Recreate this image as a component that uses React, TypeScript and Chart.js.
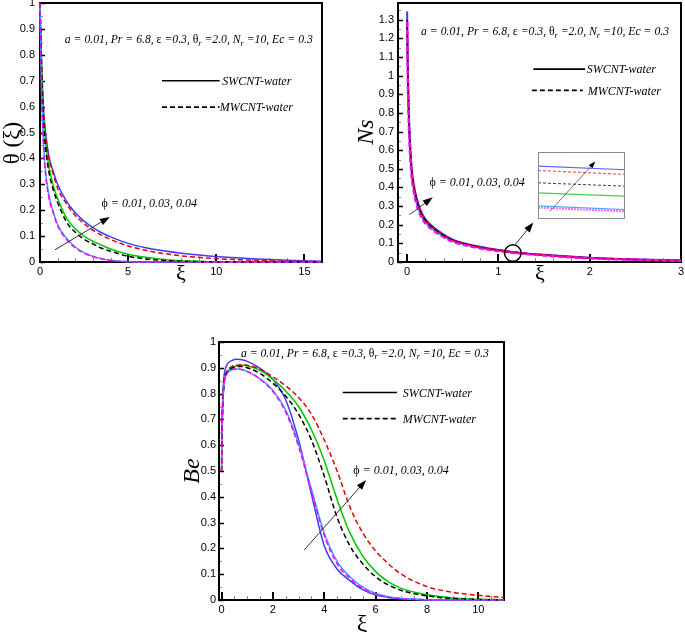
import React, { useEffect, useRef } from "react";
import { Chart, registerables } from "chart.js";
Chart.register(...registerables);

// ---------- colours ----------
const BLUE = "rgb(60,60,255)";
const LIGHTBLUE = "rgb(70,150,255)";
const MAGENTA = "rgb(255,0,255)";
const GREEN = "rgb(0,200,0)";
const BLACK = "rgb(0,0,0)";
const RED = "rgb(225,0,0)";

// ---------- theta(xi) ----------
const thetaXi = [0, 0.05, 0.1, 0.2, 0.3, 0.5, 0.75, 1, 1.5, 2, 2.5, 3, 3.5, 4, 5, 6, 7, 8, 9, 10, 12, 14, 16];
const thetaBlue = [1, 0.86, 0.75, 0.59, 0.51, 0.41, 0.35, 0.3, 0.235, 0.19, 0.158, 0.133, 0.113, 0.097, 0.072, 0.055, 0.043, 0.034, 0.027, 0.021, 0.013, 0.007, 0.003];
const thetaRed = [1, 0.86, 0.74, 0.58, 0.5, 0.4, 0.34, 0.285, 0.225, 0.18, 0.148, 0.123, 0.103, 0.087, 0.062, 0.045, 0.033, 0.024, 0.018, 0.013, 0.007, 0.003, 0.001];
const thetaGreen = [1, 0.85, 0.73, 0.56, 0.47, 0.37, 0.295, 0.245, 0.17, 0.128, 0.1, 0.08, 0.065, 0.05, 0.03, 0.018, 0.01, 0.005, 0.003, 0.001, 0, 0, 0];
const thetaBlack = [1, 0.84, 0.71, 0.54, 0.45, 0.35, 0.28, 0.23, 0.155, 0.115, 0.088, 0.07, 0.053, 0.042, 0.022, 0.012, 0.006, 0.003, 0.001, 0.0005, 0, 0, 0];
const thetaLightBlue = [1, 0.8, 0.63, 0.46, 0.36, 0.26, 0.195, 0.145, 0.092, 0.058, 0.036, 0.022, 0.013, 0.007, 0.002, 0, 0, 0, 0, 0, 0, 0, 0];
const thetaMagenta = [1, 0.79, 0.62, 0.45, 0.35, 0.25, 0.19, 0.14, 0.088, 0.055, 0.034, 0.02, 0.012, 0.006, 0.001, 0, 0, 0, 0, 0, 0, 0, 0];
const thetaXTicks = [0, 5, 10, 15];
const thetaYTicks = [0, 0.1, 0.2, 0.3, 0.4, 0.5, 0.6, 0.7, 0.8, 0.9, 1];

// ---------- Ns ----------
const nsXi = [0, 0.005, 0.01, 0.02, 0.03, 0.05, 0.075, 0.1, 0.15, 0.2, 0.3, 0.4, 0.5, 0.75, 1, 1.25, 1.5, 2, 2.5, 3];
const nsBlue = [1.345, 1.13, 0.98, 0.78, 0.66, 0.5, 0.41, 0.35, 0.275, 0.23, 0.182, 0.147, 0.12, 0.086, 0.065, 0.049, 0.039, 0.023, 0.014, 0.009];
const nsRed = [1.28, 1.12, 0.97, 0.77, 0.65, 0.495, 0.405, 0.345, 0.27, 0.226, 0.179, 0.145, 0.118, 0.085, 0.064, 0.048, 0.038, 0.022, 0.013, 0.008];
const nsBlack = [1.3, 1.11, 0.96, 0.76, 0.64, 0.49, 0.4, 0.34, 0.266, 0.223, 0.177, 0.143, 0.117, 0.084, 0.063, 0.048, 0.038, 0.022, 0.013, 0.008];
const nsGreen = [1.3, 1.1, 0.95, 0.75, 0.63, 0.48, 0.39, 0.333, 0.26, 0.218, 0.174, 0.14, 0.115, 0.082, 0.062, 0.047, 0.037, 0.021, 0.013, 0.008];
const nsLightBlue = [1.3, 1.08, 0.93, 0.73, 0.61, 0.465, 0.378, 0.32, 0.25, 0.21, 0.167, 0.135, 0.111, 0.079, 0.06, 0.045, 0.036, 0.02, 0.012, 0.007];
const nsMagenta = [1.29, 1.07, 0.92, 0.72, 0.6, 0.46, 0.373, 0.316, 0.247, 0.207, 0.165, 0.133, 0.109, 0.078, 0.059, 0.045, 0.035, 0.02, 0.012, 0.007];
const nsXTicks = [0, 1, 2, 3];
const nsYTicks = [0, 0.1, 0.2, 0.3, 0.4, 0.5, 0.6, 0.7, 0.8, 0.9, 1, 1.1, 1.2, 1.3];

// ---------- Ns inset (zoom near xi = 1.15) ----------
const insetXi = [1.1, 1.2];
const insetBlue = [0.05474, 0.05441];
const insetRed = [0.05435, 0.05399];
const insetBlack = [0.05324, 0.05294];
const insetGreen = [0.05234, 0.05204];
const insetLightBlue = [0.05117, 0.05084];
const insetMagenta = [0.05102, 0.05068];

// ---------- Be ----------
const beXi = [0, 0.02, 0.05, 0.1, 0.2, 0.4, 0.6, 0.8, 1, 1.5, 2, 2.5, 3, 3.5, 4, 4.5, 5, 5.5, 6, 6.5, 7, 8, 9, 10, 11];
const beBlue = [0.55, 0.7, 0.8, 0.87, 0.91, 0.928, 0.933, 0.931, 0.925, 0.898, 0.855, 0.775, 0.62, 0.41, 0.21, 0.12, 0.075, 0.04, 0.019, 0.01, 0.005, 0.001, 0, 0, 0];
const beLightBlue = [0.5, 0.65, 0.76, 0.84, 0.875, 0.892, 0.895, 0.892, 0.885, 0.857, 0.812, 0.735, 0.605, 0.43, 0.26, 0.15, 0.09, 0.05, 0.026, 0.013, 0.006, 0.001, 0, 0, 0];
const beMagenta = [0.5, 0.65, 0.76, 0.84, 0.876, 0.893, 0.896, 0.893, 0.886, 0.856, 0.808, 0.728, 0.595, 0.42, 0.25, 0.14, 0.083, 0.045, 0.022, 0.011, 0.005, 0.001, 0, 0, 0];
const beGreen = [0.5, 0.65, 0.76, 0.84, 0.88, 0.9, 0.908, 0.91, 0.908, 0.89, 0.855, 0.81, 0.75, 0.66, 0.54, 0.39, 0.26, 0.17, 0.11, 0.07, 0.045, 0.02, 0.008, 0.003, 0.001];
const beBlack = [0.5, 0.66, 0.77, 0.845, 0.88, 0.898, 0.905, 0.905, 0.9, 0.878, 0.84, 0.79, 0.72, 0.62, 0.48, 0.32, 0.21, 0.14, 0.09, 0.058, 0.037, 0.016, 0.006, 0.002, 0];
const beRed = [0.5, 0.66, 0.77, 0.85, 0.885, 0.905, 0.91, 0.912, 0.91, 0.895, 0.865, 0.83, 0.785, 0.72, 0.62, 0.5, 0.36, 0.26, 0.19, 0.14, 0.1, 0.052, 0.03, 0.018, 0.01];
const beXTicks = [0, 2, 4, 6, 8, 10];
const beYTicks = [0, 0.1, 0.2, 0.3, 0.4, 0.5, 0.6, 0.7, 0.8, 0.9, 1];

// ---------- texts ----------
type Seg = { t: string; it?: boolean; sub?: boolean };
const PARAM_SEGS: Seg[] = [
  { t: "a = 0.01, Pr = 6.8, ", it: true },
  { t: "ε" },
  { t: " =0.3, ", it: true },
  { t: "θ" },
  { t: "r", it: true, sub: true },
  { t: " =2.0, N", it: true },
  { t: "r", it: true, sub: true },
  { t: " =10, Ec = 0.3", it: true },
];
const PHI_SEGS: Seg[] = [{ t: "ϕ" }, { t: " = 0.01, 0.03, 0.04", it: true }];
const SW_LABEL = "SWCNT-water";
const MW_LABEL = "MWCNT-water";

// ---------- helpers ----------
type Series = { label: string; y: number[]; color: string; dashed: boolean; width?: number; dash?: number[] };

function makeDatasets(x: number[], series: Series[]) {
  return series.map((s) => ({
    label: s.label,
    data: x.map((xi, i) => ({ x: xi, y: s.y[i] })),
    borderColor: s.color,
    backgroundColor: s.color,
    borderWidth: s.width ?? 1.5,
    borderDash: s.dashed ? s.dash ?? [5, 3] : [],
    pointRadius: 0,
    fill: false,
    clip: { left: 2, top: 1, right: 0, bottom: 1 },
    cubicInterpolationMode: "monotone" as const,
  }));
}

function drawSegs(ctx: CanvasRenderingContext2D, segs: Seg[], x: number, y: number, size: number) {
  let cx = x;
  ctx.save();
  ctx.fillStyle = "#000";
  ctx.textAlign = "left";
  ctx.textBaseline = "middle";
  for (const s of segs) {
    const fs = s.sub ? size * 0.7 : size;
    ctx.font = `${s.it ? "italic " : ""}${fs}px "Liberation Serif"`;
    ctx.fillText(s.t, cx, s.sub ? y + size * 0.3 : y);
    cx += ctx.measureText(s.t).width;
  }
  ctx.restore();
}

function arrow(ctx: CanvasRenderingContext2D, x1: number, y1: number, x2: number, y2: number, head = 10, hw = 3.5, lineColor = "#333", lw = 1) {
  ctx.save();
  const ang = Math.atan2(y2 - y1, x2 - x1);
  ctx.strokeStyle = lineColor;
  ctx.lineWidth = lw;
  ctx.beginPath();
  ctx.moveTo(x1, y1);
  ctx.lineTo(x2 - Math.cos(ang) * head * 0.8, y2 - Math.sin(ang) * head * 0.8);
  ctx.stroke();
  ctx.fillStyle = "#000";
  ctx.beginPath();
  ctx.moveTo(x2, y2);
  ctx.lineTo(x2 - Math.cos(ang) * head - Math.sin(ang) * hw, y2 - Math.sin(ang) * head + Math.cos(ang) * hw);
  ctx.lineTo(x2 - Math.cos(ang) * head + Math.sin(ang) * hw, y2 - Math.sin(ang) * head - Math.cos(ang) * hw);
  ctx.closePath();
  ctx.fill();
  ctx.restore();
}

function legendRow(ctx: CanvasRenderingContext2D, x1: number, x2: number, y: number, dashed: boolean, text: string, tx: number) {
  ctx.save();
  ctx.strokeStyle = "#000";
  ctx.lineWidth = 1.6;
  ctx.setLineDash(dashed ? [5, 3] : []);
  ctx.beginPath();
  ctx.moveTo(x1, y);
  ctx.lineTo(x2, y);
  ctx.stroke();
  ctx.setLineDash([]);
  ctx.fillStyle = "#000";
  ctx.font = 'italic 12px "Liberation Serif"';
  ctx.textBaseline = "middle";
  ctx.textAlign = "left";
  ctx.fillText(text, tx, y + 1);
  ctx.restore();
}

function drawFrame(chart: any, xMajor: number[], xMinorStep: number, yMajor: number[], yMinorStep: number) {
  const { ctx, chartArea: a, scales } = chart;
  const x = scales.x, y = scales.y;
  ctx.save();
  ctx.strokeStyle = "#8a8a8a";
  ctx.lineWidth = 1;
  for (let i = Math.ceil(x.min / xMinorStep); i * xMinorStep <= x.max + 1e-9; i++) {
    const px = Math.round(x.getPixelForValue(i * xMinorStep)) + 0.5;
    ctx.beginPath();
    ctx.moveTo(px, a.bottom);
    ctx.lineTo(px, a.bottom - 4);
    ctx.stroke();
  }
  for (let i = Math.ceil(y.min / yMinorStep); i * yMinorStep <= y.max + 1e-9; i++) {
    const py = Math.round(y.getPixelForValue(i * yMinorStep)) + 0.5;
    ctx.beginPath();
    ctx.moveTo(a.left, py);
    ctx.lineTo(a.left + 3, py);
    ctx.stroke();
  }
  ctx.strokeStyle = "#000";
  ctx.lineWidth = 2;
  for (const v of xMajor) {
    const px = Math.round(x.getPixelForValue(v));
    ctx.beginPath();
    ctx.moveTo(px, a.bottom);
    ctx.lineTo(px, a.bottom - 8);
    ctx.stroke();
  }
  ctx.lineWidth = 1.5;
  for (const v of yMajor) {
    const py = Math.round(y.getPixelForValue(v)) + 0.5;
    ctx.beginPath();
    ctx.moveTo(a.left, py);
    ctx.lineTo(a.left + 5, py);
    ctx.stroke();
  }
  ctx.lineWidth = 2;
  ctx.strokeRect(a.left, a.top, a.right - a.left, a.bottom - a.top);
  ctx.restore();
}

function drawTitles(ctx: CanvasRenderingContext2D, yText: string, yItalic: boolean, yx: number, yy: number, ySize: number, xx: number, xy: number, xSize: number) {
  ctx.save();
  ctx.fillStyle = "#000";
  ctx.textAlign = "center";
  ctx.textBaseline = "middle";
  ctx.translate(yx, yy);
  ctx.rotate(-Math.PI / 2);
  ctx.font = `${yItalic ? "italic " : ""}${ySize}px "Liberation Serif"`;
  ctx.fillText(yText, 0, 0);
  ctx.restore();
  ctx.save();
  ctx.fillStyle = "#000";
  ctx.textAlign = "center";
  ctx.textBaseline = "middle";
  ctx.font = `${xSize}px "Liberation Serif"`;
  ctx.fillText("ξ", xx, xy);
  ctx.restore();
}

type AxisOpts = {
  xMin: number; xMax: number; yMin: number; yMax: number;
  xTicks: number[]; yTicks: number[];
  yWidth: number; xHeight: number;
  pad: { left: number; top: number; right: number; bottom: number };
  yTickPad: number; xTickPad: number;
  xMinor: number; yMinor: number;
};

function baseConfig(datasets: any[], o: AxisOpts, overlay: (chart: any) => void): any {
  const tickFont = { family: '"Liberation Sans"', size: 11 };
  return {
    type: "line",
    data: { datasets },
    options: {
      animation: false,
      responsive: false,
      maintainAspectRatio: false,
      devicePixelRatio: 1,
      layout: { padding: o.pad },
      plugins: { legend: { display: false }, tooltip: { enabled: false }, title: { display: false } },
      scales: {
        x: {
          type: "linear",
          position: "bottom",
          min: o.xMin,
          max: o.xMax,
          grid: { display: false, drawTicks: false },
          border: { display: false },
          afterBuildTicks: (ax: any) => { ax.ticks = o.xTicks.map((v) => ({ value: v })); },
          afterFit: (ax: any) => { ax.height = o.xHeight; ax.paddingLeft = 0; ax.paddingRight = 0; },
          ticks: { font: tickFont, color: "#000", padding: o.xTickPad, maxRotation: 0, autoSkip: false, callback: (v: any) => String(v) },
        },
        y: {
          type: "linear",
          position: "left",
          min: o.yMin,
          max: o.yMax,
          grid: { display: false, drawTicks: false },
          border: { display: false },
          afterBuildTicks: (ax: any) => { ax.ticks = o.yTicks.map((v) => ({ value: v })); },
          afterFit: (ax: any) => { ax.width = o.yWidth; ax.paddingTop = 0; ax.paddingBottom = 0; },
          ticks: { font: tickFont, color: "#000", padding: o.yTickPad, autoSkip: false, callback: (v: any) => String(v) },
        },
      },
    },
    plugins: [{
      id: "overlay",
      beforeDatasetsDraw: (chart: any) => drawFrame(chart, o.xTicks, o.xMinor, o.yTicks, o.yMinor),
      afterDatasetsDraw: (chart: any) => overlay(chart),
    }],
  };
}

// ---------- chart builders ----------
function makeTheta() {
  const ds = makeDatasets(thetaXi, [
    { label: "MWCNT ϕ=0.01", y: thetaMagenta, color: MAGENTA, dashed: true },
    { label: "MWCNT ϕ=0.03", y: thetaBlack, color: BLACK, dashed: true },
    { label: "MWCNT ϕ=0.04", y: thetaRed, color: RED, dashed: true },
    { label: "SWCNT ϕ=0.01", y: thetaLightBlue, color: LIGHTBLUE, dashed: false },
    { label: "SWCNT ϕ=0.03", y: thetaGreen, color: GREEN, dashed: false },
    { label: "SWCNT ϕ=0.04", y: thetaBlue, color: BLUE, dashed: false },
  ]);
  return baseConfig(ds, {
    xMin: 0, xMax: 16, yMin: 0, yMax: 1, xTicks: thetaXTicks, yTicks: thetaYTicks,
    yWidth: 40, xHeight: 23, pad: { left: 0, top: 3, right: 8, bottom: 0 }, yTickPad: 5, xTickPad: 3,
    xMinor: 1, yMinor: 0.05,
  }, (chart) => {
    const { ctx, scales: { x, y } } = chart;
    const X = (v: number) => x.getPixelForValue(v), Y = (v: number) => y.getPixelForValue(v);
    drawSegs(ctx, PARAM_SEGS, X(1.41), Y(0.856), 11.7);
    legendRow(ctx, X(6.92), X(10.19), Y(0.7), false, SW_LABEL, X(10.34));
    legendRow(ctx, X(6.92), X(10.19), Y(0.598), true, MW_LABEL, X(10.2));
    arrow(ctx, X(0.85), Y(0.047), X(3.96), Y(0.174));
    drawSegs(ctx, PHI_SEGS, X(3.49), Y(0.225), 12);
    drawTitles(ctx, "θ (ξ)", false, 13, 143, 23, 181, 274, 22);
  });
}

function makeNs() {
  const ds = makeDatasets(nsXi, [
    { label: "MWCNT ϕ=0.01", y: nsMagenta, color: MAGENTA, dashed: true, width: 2.5 },
    { label: "MWCNT ϕ=0.03", y: nsBlack, color: BLACK, dashed: true },
    { label: "MWCNT ϕ=0.04", y: nsRed, color: RED, dashed: true, width: 2 },
    { label: "SWCNT ϕ=0.01", y: nsLightBlue, color: LIGHTBLUE, dashed: false },
    { label: "SWCNT ϕ=0.03", y: nsGreen, color: GREEN, dashed: false },
    { label: "SWCNT ϕ=0.04", y: nsBlue, color: BLUE, dashed: false, width: 2 },
  ]);
  return baseConfig(ds, {
    xMin: -0.1, xMax: 3, yMin: 0, yMax: 1.39, xTicks: nsXTicks, yTicks: nsYTicks,
    yWidth: 53, xHeight: 23, pad: { left: 0, top: 3, right: 4, bottom: 0 }, yTickPad: 4, xTickPad: 3,
    xMinor: 0.2, yMinor: 0.05,
  }, (chart) => {
    const { ctx, scales: { x, y } } = chart;
    const X = (v: number) => x.getPixelForValue(v), Y = (v: number) => y.getPixelForValue(v);
    drawSegs(ctx, PARAM_SEGS, X(0.153), Y(1.234), 11.7);
    legendRow(ctx, X(1.383), X(1.95), Y(1.035), false, SW_LABEL, X(1.968));
    legendRow(ctx, X(1.366), X(1.924), Y(0.921), true, MW_LABEL, X(1.979));
    arrow(ctx, X(0.025), Y(0.254), X(0.281), Y(0.347));
    drawSegs(ctx, PHI_SEGS, X(0.244), Y(0.427), 12);
    ctx.save();
    ctx.strokeStyle = "#000";
    ctx.lineWidth = 1.5;
    ctx.beginPath();
    ctx.arc(X(1.158), Y(0.048), 8.3, 0, Math.PI * 2);
    ctx.stroke();
    ctx.restore();
    arrow(ctx, X(1.183), Y(0.093), X(1.383), Y(0.212), 10, 3.5);
    drawTitles(ctx, "Ns", true, 22, 132, 24, 195, 274, 22);
  });
}

function makeInset() {
  const ds = makeDatasets(insetXi, [
    { label: "MWCNT ϕ=0.01", y: insetMagenta, color: "rgba(255,80,255,0.85)", dashed: true, width: 2, dash: [2, 1] },
    { label: "MWCNT ϕ=0.03", y: insetBlack, color: "rgba(40,40,40,0.9)", dashed: true, width: 1, dash: [3, 2] },
    { label: "MWCNT ϕ=0.04", y: insetRed, color: "rgba(230,60,60,0.85)", dashed: true, width: 1.2, dash: [3, 2] },
    { label: "SWCNT ϕ=0.01", y: insetLightBlue, color: "rgba(80,150,255,0.9)", dashed: false, width: 1.2 },
    { label: "SWCNT ϕ=0.03", y: insetGreen, color: "rgba(40,210,40,0.9)", dashed: false, width: 1.2 },
    { label: "SWCNT ϕ=0.04", y: insetBlue, color: "rgba(80,80,255,0.9)", dashed: false, width: 1.2 },
  ]);
  return {
    type: "line",
    data: { datasets: ds },
    options: {
      animation: false,
      responsive: false,
      maintainAspectRatio: false,
      devicePixelRatio: 1,
      layout: { padding: 0 },
      plugins: { legend: { display: false }, tooltip: { enabled: false } },
      scales: {
        x: { type: "linear", min: 1.1, max: 1.2, display: false },
        y: { type: "linear", min: 0.05, max: 0.056, display: false },
      },
    },
    plugins: [
      {
        id: "insetBg",
        beforeDraw: (chart: any) => {
          const { ctx, width, height } = chart;
          ctx.save();
          ctx.fillStyle = "#fff";
          ctx.fillRect(0, 0, width, height);
          ctx.restore();
        },
        afterDatasetsDraw: (chart: any) => {
          const { ctx, width, height, scales: { x, y } } = chart;
          arrow(ctx, x.getPixelForValue(1.1136), y.getPixelForValue(0.05068), x.getPixelForValue(1.1659), y.getPixelForValue(0.05516), 7, 2.5, "#555", 0.8);
          ctx.save();
          ctx.strokeStyle = "#8a8a8a";
          ctx.lineWidth = 1;
          ctx.strokeRect(0.5, 0.5, width - 1, height - 1);
          ctx.restore();
        },
      },
    ],
  };
}

function makeBe() {
  const ds = makeDatasets(beXi, [
    { label: "MWCNT a", y: beMagenta, color: MAGENTA, dashed: true },
    { label: "MWCNT b", y: beBlack, color: BLACK, dashed: true },
    { label: "MWCNT c", y: beRed, color: RED, dashed: true },
    { label: "SWCNT a", y: beLightBlue, color: LIGHTBLUE, dashed: false },
    { label: "SWCNT b", y: beGreen, color: GREEN, dashed: false },
    { label: "SWCNT c", y: beBlue, color: BLUE, dashed: false },
  ]);
  return baseConfig(ds, {
    xMin: -0.1, xMax: 11, yMin: 0, yMax: 1, xTicks: beXTicks, yTicks: beYTicks,
    yWidth: 44, xHeight: 32, pad: { left: 0, top: 12, right: 11, bottom: 0 }, yTickPad: 3, xTickPad: 3,
    xMinor: 0.5, yMinor: 0.05,
  }, (chart) => {
    const { ctx, scales: { x, y } } = chart;
    const X = (v: number) => x.getPixelForValue(v), Y = (v: number) => y.getPixelForValue(v);
    drawSegs(ctx, PARAM_SEGS, X(0.753), Y(0.955), 11.7);
    legendRow(ctx, X(4.72), X(6.83), Y(0.804), false, SW_LABEL, X(7.06));
    legendRow(ctx, X(4.72), X(6.83), Y(0.703), true, MW_LABEL, X(7.06));
    arrow(ctx, X(3.22), Y(0.194), X(5.63), Y(0.465));
    drawSegs(ctx, PHI_SEGS, X(5.13), Y(0.499), 12);
    drawTitles(ctx, "Be", true, 18, 141, 24, 187, 295, 24);
  });
}

function ChartBox({ left, top, width, height, make }: { left: number; top: number; width: number; height: number; make: () => any }) {
  const ref = useRef<HTMLCanvasElement>(null);
  useEffect(() => {
    const chart = new Chart(ref.current as HTMLCanvasElement, make());
    return () => chart.destroy();
  }, []);
  return (
    <div style={{ position: "absolute", left, top, width, height }}>
      <canvas ref={ref} width={width} height={height} style={{ width, height, display: "block" }} />
    </div>
  );
}

export default function App() {
  return (
    <div style={{ position: "absolute", left: 0, top: 0, width: 685, height: 632, background: "#fff", overflow: "hidden" }}>
      <ChartBox left={0} top={0} width={330} height={285} make={makeTheta} />
      <ChartBox left={345} top={0} width={340} height={285} make={makeNs} />
      <ChartBox left={538} top={152} width={87} height={67} make={makeInset} />
      <ChartBox left={175} top={330} width={340} height={302} make={makeBe} />
    </div>
  );
}
